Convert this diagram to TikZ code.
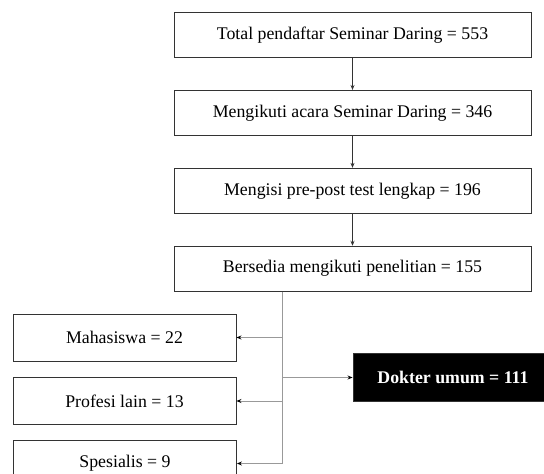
\documentclass[tikz,border=0pt]{standalone}
\usepackage{fontspec}
\setmainfont{Liberation Serif}
\usetikzlibrary{arrows.meta,positioning}

\begin{document}
\begin{tikzpicture}[x=1pt,y=1pt,node distance=32pt,
  every node/.style={draw=black!80,line width=0.9pt,align=center,font=\fontsize{17.8}{20}\selectfont,minimum height=45pt},
  mainbox/.style={minimum width=357pt},
  sidebox/.style={minimum width=223pt,minimum height=47pt},
  darkbox/.style={fill=black,text=white,font=\fontsize{17.8}{20}\selectfont\bfseries,minimum width=200pt,minimum height=48pt},
  flow/.style={-{Stealth[length=5pt,width=4pt]},draw=black!80,line width=0.7pt},
  branch/.style={draw=black!40,line width=0.8pt}]
  \useasboundingbox (0,0) rectangle (544,-474);
  \node[mainbox] (total) at (352.5,-35) {Total pendaftar Seminar Daring = 553};
  \node[mainbox,below=of total] (ikut) {Mengikuti acara Seminar Daring = 346};
  \node[mainbox,below=of ikut] (isi) {Mengisi pre-post test lengkap = 196};
  \node[mainbox,below=of isi] (bersedia) {Bersedia mengikuti penelitian = 155};
  \node[sidebox] (mhs) at (124.5,-337.5) {Mahasiswa = 22};
  \node[sidebox] (profesi) at (124.5,-401) {Profesi lain = 13};
  \node[sidebox] (spesialis) at (125,-463.5) {Spesialis = 9};
  \node[darkbox] (dokter) at (453,-377.5) {Dokter umum = 111};
  \coordinate (trunk) at (282,0);
  \draw[flow] (total)--(ikut);
  \draw[flow] (ikut)--(isi);
  \draw[flow] (isi)--(bersedia);
  \draw[branch] (bersedia.south -| trunk)--(trunk |- spesialis);
  \draw[branch,-{Stealth[length=5pt,width=4pt,black]}] (trunk |- mhs)--(mhs.east);
  \draw[branch,-{Stealth[length=5pt,width=4pt,black]}] (trunk |- profesi)--(profesi.east);
  \draw[branch,-{Stealth[length=5pt,width=4pt,black]}] (trunk |- spesialis)--(spesialis.east);
  \draw[branch,-{Stealth[length=5pt,width=4pt,black]}] (trunk |- dokter)--(dokter.west);
\end{tikzpicture}
\end{document}
